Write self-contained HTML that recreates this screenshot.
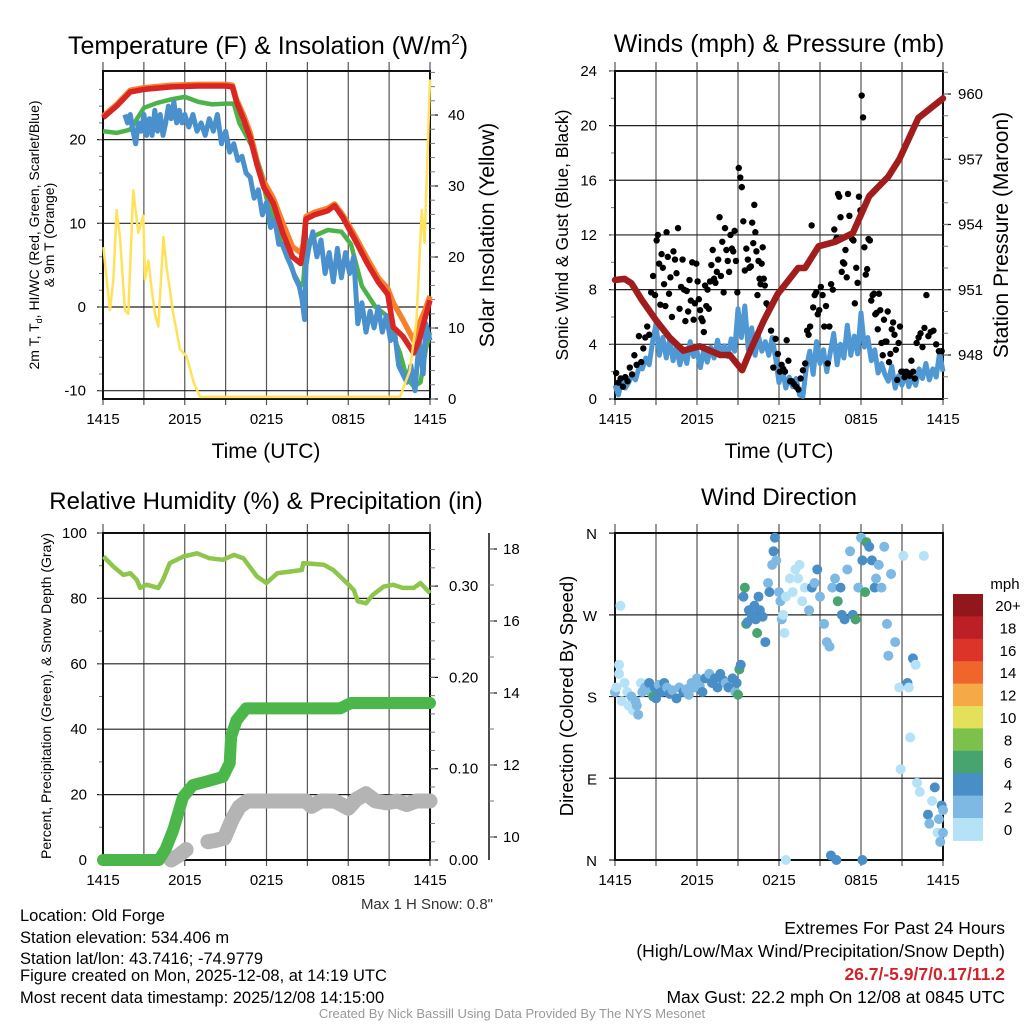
<!DOCTYPE html>
<html><head><meta charset="utf-8"><style>
html,body{margin:0;padding:0;background:#fff;}
svg{display:block;font-family:"Liberation Sans",sans-serif;}
</style></head><body>
<svg id="fig" width="1024" height="1024" viewBox="0 0 1024 1024" xmlns="http://www.w3.org/2000/svg">
<rect width="1024" height="1024" fill="#fff"/>
<text x="268" y="54" font-size="25" text-anchor="middle">Temperature (F) &amp; Insolation (W/m<tspan font-size="15" dy="-10">2</tspan><tspan dy="10">)</tspan></text>
<text x="779" y="52" font-size="25" text-anchor="middle">Winds (mph) &amp; Pressure (mb)</text>
<text x="266" y="509" font-size="24" text-anchor="middle">Relative Humidity (%) &amp; Precipitation (in)</text>
<text x="779" y="505" font-size="24" text-anchor="middle">Wind Direction</text>
<text x="266" y="458" font-size="21" text-anchor="middle">Time (UTC)</text>
<text x="779" y="458" font-size="21" text-anchor="middle">Time (UTC)</text>
<text transform="translate(39,235) rotate(-90)" font-size="14" text-anchor="middle">2m T, T<tspan font-size="9" dy="3">d</tspan><tspan dy="-3">, HI/WC (Red, Green, Scarlet/Blue)</tspan></text>
<text transform="translate(54,235) rotate(-90)" font-size="14" text-anchor="middle">&amp; 9m T (Orange)</text>
<text transform="translate(494,235) rotate(-90)" font-size="21" text-anchor="middle">Solar Insolation (Yellow)</text>
<text transform="translate(568,235) rotate(-90)" font-size="17.5" text-anchor="middle">Sonic Wind &amp; Gust (Blue, Black)</text>
<text transform="translate(1008,235) rotate(-90)" font-size="21" text-anchor="middle">Station Pressure (Maroon)</text>
<text transform="translate(51,696) rotate(-90)" font-size="14" text-anchor="middle">Percent, Precipitation (Green), &amp; Snow Depth (Gray)</text>
<text transform="translate(573,696) rotate(-90)" font-size="18.5" text-anchor="middle">Direction (Colored By Speed)</text>
<text x="493" y="909" font-size="15" text-anchor="end" fill="#333">Max 1 H Snow: 0.8"</text>
<g font-size="16.5">
<text x="20" y="921">Location: Old Forge</text>
<text x="20" y="943">Station elevation: 534.406 m</text>
<text x="20" y="964">Station lat/lon: 43.7416; -74.9779</text>
<text x="20" y="981">Figure created on Mon, 2025-12-08, at 14:19 UTC</text>
<text x="20" y="1003">Most recent data timestamp: 2025/12/08 14:15:00</text>
</g>
<g font-size="17.5" text-anchor="end">
<text x="1005" y="934">Extremes For Past 24 Hours</text>
<text x="1005" y="957">(High/Low/Max Wind/Precipitation/Snow Depth)</text>
<text x="1005" y="980" fill="#d2232a" font-weight="bold">26.7/-5.9/7/0.17/11.2</text>
<text x="1005" y="1003">Max Gust: 22.2 mph On 12/08 at 0845 UTC</text>
</g>
<text x="512" y="1018" font-size="13" text-anchor="middle" fill="#999">Created By Nick Bassill Using Data Provided By The NYS Mesonet</text>
</svg>
<script>
// ---- data ----
const timeTickLabels = ["1415","2015","0215","0815","1415"];
const tempTicks = [-10,0,10,20];
const solarTicks = [0,10,20,30,40];
const windTicks = [0,4,8,12,16,20,24];
const presTicks = [948,951,954,957,960];
const rhTicks = [0,20,40,60,80,100];
const precipTicks = [0,0.1,0.2,0.3];
const snowTicks = [10,12,14,16,18];
const dirTicks = ["N","E","S","W","N"];
const speedLabels = ["0","2","4","6","8","10","12","14","16","18","20+"];
const speedColors = ["#b5e2f7","#7db9e2","#4a8ec7","#48a46e","#7bc14b","#e5e05b","#f6a947","#ef652c","#dd3429","#bd1f27","#92171a"];

const redT = [0,1,2,3,5,7,9,9.5,9.8,10.3,10.8,11.3,11.8,12.5,13.2,13.9,14.5,14.7,14.9,15.5,16.5,17.0,17.6,18.5,19.4,20.2,20.9,21.3,22.0,22.8,23.2,23.6,24];
const redV = [22.6,24,25.7,26,26.3,26.4,26.4,26.3,24.5,22.5,20.2,17,14.3,12.4,8.8,6,5.2,7,10.5,11,11.5,12.1,10.7,8,5.2,3,1.5,-2.4,-3.5,-5.5,-4,-1.5,0.8];
const orangeV = [22.8,24.2,25.9,26.2,26.5,26.6,26.6,26.5,24.8,23,20.8,17.5,15,13,10,7.2,6.5,7.5,10.8,11.3,11.8,12.3,11,8.5,5.8,3.5,2.2,0.5,-1.5,-4,-2,-0.5,1.3];
const greenT = [0,1,2,2.5,3,4,5,6,7,8,9,9.6,10,10.5,11,11.5,12,12.5,13,13.5,14,14.5,14.7,14.9,15.5,16.5,17.5,18.2,18.6,19,20,20.8,21.2,21.8,22.3,22.8,23.3,23.7,24];
const greenV = [21,20.8,21.2,22.5,23.8,24.4,24.8,25.1,24.5,24.2,24.3,24.3,22,20.5,19,16.5,13,10.5,8,6,4,2.5,3,7.5,8.5,9.2,9,7.5,5,2.5,0,-1,-3,-5.5,-8.5,-9.5,-9,-5,-3];
const blueT = [1.6,1.8,2.0,2.2,2.4,2.6,2.8,3.0,3.2,3.4,3.6,3.8,4.0,4.2,4.4,4.6,4.8,5.0,5.2,5.4,5.6,5.8,6.0,6.3,6.6,6.9,7.2,7.5,7.8,8.1,8.4,8.7,9.0,9.3,9.6,9.9,10.2,10.5,10.8,11.1,11.4,11.7,12.0,12.3,12.6,12.9,13.2,13.5,13.8,14.1,14.4,14.6,14.8,14.9,15.1,15.4,15.7,16.0,16.3,16.6,16.9,17.2,17.5,17.8,18.1,18.4,18.7,19.0,19.3,19.6,19.9,20.2,20.5,20.8,21.1,21.4,21.7,22.0,22.3,22.6,22.9,23.2,23.5,23.7,24.0];
const blueV = [23,22,23,21,19.5,22,21,23,20.5,22.5,20.5,23.5,21,23,20.5,22,24,22.5,24.5,22,23.5,22,23,21.5,23,21,22,20.5,22.5,21,23,19.5,21,18.5,19.5,17.5,18,16,15.5,13,14,11,12.5,9.5,10.5,7.5,7.5,6,5,3.5,2.5,1,-1.5,5,7,9,6,8,4,6.5,3,7,3.5,6.5,4,6,-2,0.5,-3,-0.5,-2.5,0,-3,-1,-4,-3,-7,-8,-9,-7,-10,-4,-8,-2,-4];
const solarT = [0.03,0.27,0.51,0.76,1.0,1.25,1.61,1.86,2.22,2.59,2.96,3.08,3.33,3.57,3.82,4.06,4.43,4.67,5.16,5.65,6.14,6.63,7.12,21.8,22.5,23.0,23.4,23.6,24];
const solarV = [21.4,16.8,12.5,16.8,26.6,22.8,12.5,12,29.4,23.4,25.8,16.8,19.5,15.5,12,10.2,22.8,18.6,12,7,6,2.5,0.3,0.3,3.9,10.9,26.6,22,45];

const presT = [0,0.7,1.2,2,3,4,5,6.2,7.7,8.4,9.3,9.9,10.9,11.9,12.9,13.4,13.9,14.9,16.1,17.4,18.6,20,20.8,22.2,23.2,24];
const presV = [951.45,951.5,951.3,950.5,949.6,948.8,948.2,948.4,948.0,948.0,947.3,948.2,949.6,950.8,951.6,952.0,952.0,953.0,953.2,953.6,955.3,956.2,957.0,958.9,959.4,959.8];
const windT = [0,0.25,0.5,0.75,1,1.25,1.5,1.75,2,2.25,2.5,2.75,3,3.25,3.5,3.75,4,4.25,4.5,4.75,5,5.25,5.5,5.75,6,6.25,6.5,6.75,7,7.25,7.5,7.75,8,8.25,8.5,8.75,9,9.25,9.5,9.75,10,10.25,10.5,10.75,11,11.25,11.5,11.75,12,12.25,12.5,12.75,13,13.25,13.5,13.75,14,14.25,14.5,14.75,15,15.25,15.5,15.75,16,16.25,16.5,16.75,17,17.25,17.5,17.75,18,18.25,18.5,18.75,19,19.25,19.5,19.75,20,20.25,20.5,20.75,21,21.25,21.5,21.75,22,22.25,22.5,22.75,23,23.25,23.5,23.75,24];
const windV = [1,0.3,1.4,0.8,1.2,1.8,1.4,2.3,2.2,3.0,2.5,4.2,5.5,3.2,4.5,3.0,4.4,2.8,3.8,2.5,3.6,2.6,4.2,3.1,3.5,2.3,3.6,2.7,3.8,3.0,4.3,3.2,3.9,3.1,4.4,3.5,6.6,4.5,6.8,3.6,5.2,3.2,4.6,3.5,4.2,3.2,4.5,3.0,1.2,2.2,0.8,1.6,0.9,1.5,0.3,0.2,2.3,3.5,1.8,4.2,2.6,3.6,2.0,3.4,4.8,2.5,4.0,3.0,5.4,3.2,4.6,3.3,6.3,3.8,4.5,2.8,3.6,1.9,2.6,1.8,1.3,2.4,0.8,1.7,1.0,2.0,0.9,1.6,1.0,2.2,1.5,2.6,1.4,2.2,1.6,3.4,2.0];
const gustByHour = [
[1.9,1.2,1.5,0.9,1.6,1.3],[2.3,1.8,3.2,2.5,4.6,2.7],[3.7,4.5,5.3,4.7,7.8,9.0,7.6],
[11.6,12.0,9.9,6.9,10.6,9.6,8.4,6.8,12.2,10.4,7.7],[8.9,6.0,10.8,10.2,9.2,12.5,6.6,8.2,10.2],
[8.0,5.7,7.9,6.4,8.7,7.2,10.0,5.8,7.0,9.9],[8.6,7.3,6.5,5.9,5.7,4.9,8.3,6.8,8.0,6.6,8.6],
[9.8,10.9,8.8,8.5,9.3,10.2,13.3,9.0,11.5,7.8],[12.5,10.9,10.1,9.3,12.0,11.0,10.8,12.3,10.1,7.8],
[16.9,16.2,15.5,13.0,9.4,11.0,10.2,9.6,9.7],[12.9,11.4,14.2,12.2,10.8,7.6,10.1,8.8,8.4,9.9,11.1,8.8,8.3],
[7.0,6.8,5.0,2.3,4.4,3.3],[2.0,2.5,2.2,2.0,4.3,2.8,1.3,1.3],[1.1,0.9,0.7,1.5,2.1,2.6],
[5.0,4.7,5.3,12.7,6.7,7.6,7.8,6.2,6.5],[8.2,7.6,5.3,6.8,2.6,5.3,8.4,8.0],
[12.4,11.6,11.8,15.0,14.8,13.3,9.3,10.0,9.9,10.9,8.9],[15.0,13.4,12.0,11.7,11.6,7.0,9.6,8.5,14.8,13.8],
[22.2,20.6,11.1,9.1,9.5,11.7,11.6,7.2,7.6,7.7],[6.2,6.3,5.1,7.7,6.5,4.1,3.2,5.8,4.2,4.2,6.4],
[2.7,3.3,5.1,5.6,4.7,3.6,1.4,4.1,5.3,2.0],[2.0,1.6,2.0,1.9,1.7,2.8,2.0,1.5],
[4.1,4.5,4.8,3.8,5.2,7.6,4.6],[4.9,5.0,4.0,3.5,3.5]];

const rhT = [0.04,0.77,1.5,2.0,2.47,2.72,3.2,4.06,4.4,4.9,5.9,6.9,7.8,8.8,9.6,10.3,11.3,12.0,12.8,13.7,14.6,14.7,16.2,16.9,17.9,18.4,18.7,19.3,19.8,20.6,21.3,22.0,22.8,23.3,24];
const rhV = [92.8,89.7,87.2,87.7,85.7,83.2,84.2,83.2,85.7,90.8,92.8,93.8,92.3,91.8,93.3,92.3,86.7,84.7,87.7,88.2,88.7,90.8,90.3,88.7,84.7,82.6,79.1,78.5,81.1,83.6,84.2,83.2,83.2,84.7,81.6];
const precipT = [0,2,4.1,4.6,5.16,5.87,6.6,7.6,8.8,9.3,9.4,9.8,10.5,17.4,18.2,24];
const precipV = [0,0,0,0.012,0.033,0.069,0.082,0.086,0.091,0.106,0.135,0.153,0.166,0.166,0.172,0.172];
const snowSeg1T = [5.0,5.6,6.1];
const snowSeg1V = [9.36,9.5,9.65];
const snowSeg2T = [7.7,8.2,8.9,9.5,10.0,10.6,12,13,14.9,15.3,16,17,18.0,18.6,19.3,20.0,20.8,21.6,22.3,23,24];
const snowSeg2V = [9.87,9.9,9.97,10.5,10.84,11.0,11.0,11.0,11.0,10.85,11.0,11.0,10.8,11.05,11.2,11.0,10.95,11.0,10.9,11.0,11.0];

const dirT = [0.0,0.1,0.3,0.3,0.4,0.5,0.7,0.9,1.0,1.2,1.3,1.5,1.6,1.7,1.9,2.0,2.2,2.5,2.6,2.8,2.9,3.0,3.2,3.4,3.6,3.8,4.0,4.2,4.5,4.7,5.0,5.2,5.4,5.6,5.8,6.0,6.2,6.4,6.6,6.9,7.1,7.3,7.5,7.7,7.9,8.1,8.3,8.6,8.8,8.9,9.0,9.1,9.2,9.4,9.5,9.6,9.8,10.0,10.2,10.3,10.4,10.6,10.8,11.0,11.2,11.3,11.5,11.6,11.7,11.8,12.0,12.1,12.2,12.3,12.4,12.5,12.8,13.0,13.2,13.4,13.5,13.7,13.9,14.2,14.4,14.6,14.8,15.0,15.3,15.5,15.7,15.9,16.1,16.3,16.5,16.6,16.8,17.0,17.2,17.4,17.6,17.8,18.0,18.1,18.3,18.4,18.6,18.8,19.0,19.1,19.3,19.5,19.7,19.9,20.0,20.2,20.5,20.8,20.9,21.1,21.4,21.5,21.6,21.8,22.0,22.1,22.3,22.6,22.9,23.0,23.2,23.4,23.6,23.7,23.8,23.9,24.0,24.0,15.8,16.2,18.1,12.5,9.7,10.5];
const dirV = [185,190,205,215,280,175,195,185,170,180,165,175,170,160,195,185,190,195,185,180,190,178,193,185,195,190,183,187,178,190,185,188,182,195,190,200,192,185,200,205,195,200,190,205,198,195,190,200,185,195,182,210,215,290,300,260,275,270,280,265,250,275,268,240,305,295,325,340,355,330,295,285,265,270,250,290,310,295,320,310,325,285,300,275,300,305,320,290,260,240,235,300,310,285,300,270,265,320,340,270,265,300,355,330,295,350,345,330,300,310,325,300,345,260,225,315,240,190,100,335,195,190,135,222,215,85,75,335,50,40,65,80,30,45,20,60,30,55,5,0,0,0,262,290];
const dirSpd = [2,0,0,0,0,0,0,0,0,2,0,2,2,2,0,2,2,4,2,6,4,4,2,4,4,2,4,2,4,2,4,2,2,2,2,2,2,4,4,2,4,4,4,4,4,2,4,4,2,4,6,6,4,4,6,6,4,4,4,4,6,4,4,4,2,4,2,4,4,2,2,2,2,0,0,0,0,0,0,0,0,0,0,2,4,2,4,2,2,2,2,2,2,6,4,4,4,2,2,4,6,2,2,4,6,6,4,4,4,2,2,2,2,2,2,2,2,0,0,0,4,0,0,4,0,0,0,0,4,2,0,4,0,2,2,4,2,2,4,4,4,0,4,4];

// ---- helpers ----
const NS = "http://www.w3.org/2000/svg";
const svg = document.getElementById("fig");
function mk(tag, attrs, parent){
  const e = document.createElementNS(NS, tag);
  for (const k in attrs) e.setAttribute(k, attrs[k]);
  (parent || svg).appendChild(e);
  return e;
}
function pathD(ts, vs, xf, yf){
  return ts.map((t,i)=>(i?"L":"M")+xf(t).toFixed(1)+" "+yf(vs[i]).toFixed(1)).join(" ");
}
function panelBase(name, x0, x1, yTop, yBot, yf, ticks, minorStep, minorRange){
  const g = mk("g", {});
  
  
  for (let i = 0; i <= 8; i++){
    const x = x0 + i*(x1-x0)/8;
    const l = mk("line", {x1:x, y1:yTop-9, x2:x, y2:yBot+6, stroke:"#555", "stroke-width":1.2}, g);
    
    
  }
  for (let i = 0; i <= 4; i++){
    const x = x0 + i*(x1-x0)/4;
    const t = mk("text", {x:x, y:yBot+25, "font-size":15, "text-anchor":"middle"}, g);
    t.textContent = timeTickLabels[i];
    
    
  }
  ticks.forEach(v=>{
    const y = yf(v);
    const l = mk("line", {x1:x0-6, y1:y, x2:x1, y2:y, stroke:"#222", "stroke-width":1.2}, g);
    
    
  });
  if (minorStep){
    for (let v = minorRange[0]; v <= minorRange[1]+1e-9; v += minorStep){
      const y = yf(v);
      const l = mk("line", {x1:x0-4, y1:y, x2:x0, y2:y, stroke:"#777", "stroke-width":1}, g);
      
      
    }
  }
  const f = mk("rect", {x:x0, y:yTop, width:x1-x0, height:yBot-yTop, fill:"none", stroke:"#111", "stroke-width":2}, g);
  
  
  return g;
}
function yLabels(name, ticks, yf, x, anchor, fmt, size){
  ticks.forEach((v,i)=>{
    const t = mk("text", {x:x, y:yf(v)+5, "font-size":size||15, "text-anchor":anchor});
    t.textContent = fmt ? fmt(v,i) : v;
    
    
  });
}
function rightAxis(name, x, yTop, yBot, ticks, yf, minor, minorRange){
  const l = mk("line", {x1:x, y1:yTop, x2:x, y2:yBot, stroke:"#111", "stroke-width":1.5});
  
  
  ticks.forEach(v=>{
    const t = mk("line", {x1:x, y1:yf(v), x2:x+8, y2:yf(v), stroke:"#111", "stroke-width":1.2});
    
    
  });
  if (minor){
    for (let v = minorRange[0]; v <= minorRange[1]+1e-9; v += minor){
      const t = mk("line", {x1:x, y1:yf(v), x2:x+5, y2:yf(v), stroke:"#777", "stroke-width":1});
      
      
    }
  }
}

// ---- Panel A: temperature ----
const ax0 = 103, ax1 = 430;
const xA = h => ax0 + h*(ax1-ax0)/24;
const yT = v => 307 - v*8.37;
const yS = v => 399 - v*7.1;
panelBase("temp", ax0, ax1, 71, 399, yT, tempTicks, 2, [-10,26]);
yLabels("temp-y-tick-label", tempTicks, yT, 86, "end");
rightAxis("solar-axis", ax1, 71, 399, solarTicks, yS, 2, [0,46]);
yLabels("solar-y-tick-label", solarTicks, yS, 448, "start");
let p;
p = mk("path", {d:pathD(redT, orangeV, xA, yT), fill:"none", stroke:"#f5822b", "stroke-width":5.5, "stroke-linejoin":"round"});


p = mk("path", {d:pathD(greenT, greenV, xA, yT), fill:"none", stroke:"#4bb34a", "stroke-width":4.5, "stroke-linejoin":"round"});


p = mk("path", {d:pathD(blueT, blueV, xA, yT), fill:"none", stroke:"#4a90cc", "stroke-width":5, "stroke-linejoin":"round"});


p = mk("path", {d:pathD(redT, redV, xA, yT), fill:"none", stroke:"#d92524", "stroke-width":5.5, "stroke-linejoin":"round"});


p = mk("path", {d:pathD(solarT, solarV, xA, yS), fill:"none", stroke:"#ffe25a", "stroke-width":2.5, "stroke-linejoin":"round"});



// ---- Panel B: winds ----
const bx0 = 615, bx1 = 943;
const xB = h => bx0 + h*(bx1-bx0)/24;
const yW = v => 399 - v*13.67;
const yP = v => 94 + (960-v)*21.75;
panelBase("wind", bx0, bx1, 71, 399, yW, windTicks, 2, [0,24]);
yLabels("wind-y-tick-label", windTicks, yW, 597, "end");
rightAxis("pressure-axis", bx1, 71, 399, presTicks, yP, 1, [946,961]);
yLabels("pressure-y-tick-label", presTicks, yP, 958, "start");
p = mk("path", {d:pathD(windT, windV, xB, yW), fill:"none", stroke:"#4f98d3", "stroke-width":5, "stroke-linejoin":"round"});


gustByHour.forEach((arr, hr)=>{
  arr.forEach((v, i)=>{
    const t = hr + (i+0.5)/arr.length;
    const c = mk("circle", {cx:xB(t), cy:yW(v), r:3.2, fill:"#000"});
    
    
  });
});
p = mk("path", {d:pathD(presT, presV, xB, yP), fill:"none", stroke:"#a11d1d", "stroke-width":6.5, "stroke-linejoin":"round", "stroke-linecap":"round"});



// ---- Panel C: humidity / precip ----
const cx0 = 103, cx1 = 430;
const xC = h => cx0 + h*(cx1-cx0)/24;
const yR = v => 860 - v*3.27;
const yPr = v => 860 - v*913;
const ySn = v => 837 - (v-10)*36;
panelBase("rh", cx0, cx1, 533, 860, yR, rhTicks, 10, [0,100]);
yLabels("rh-y-tick-label", rhTicks, yR, 87, "end");
rightAxis("precip-axis", cx1, 533, 860, precipTicks, yPr, 0.02, [0,0.34]);
yLabels("precip-y-tick-label", precipTicks, yPr, 449, "start", v=>v.toFixed(2));
rightAxis("snow-axis", 489, 533, 860, snowTicks, ySn, 1, [10,18]);
yLabels("snow-y-tick-label", snowTicks, ySn, 503, "start");
p = mk("path", {d:pathD(snowSeg1T, snowSeg1V, xC, ySn), fill:"none", stroke:"#b4b4b4", "stroke-width":15, "stroke-linejoin":"round", "stroke-linecap":"round"});


p = mk("path", {d:pathD(snowSeg2T, snowSeg2V, xC, ySn), fill:"none", stroke:"#b4b4b4", "stroke-width":15, "stroke-linejoin":"round", "stroke-linecap":"round"});


p = mk("path", {d:pathD(precipT, precipV, xC, yPr), fill:"none", stroke:"#4bb64a", "stroke-width":12, "stroke-linejoin":"round", "stroke-linecap":"round"});


p = mk("path", {d:pathD(rhT, rhV, xC, yR), fill:"none", stroke:"#8dc64b", "stroke-width":4.5, "stroke-linejoin":"round"});



// ---- Panel D: wind direction ----
const dx0 = 615, dx1 = 943;
const xD = h => dx0 + h*(dx1-dx0)/24;
const yD = v => 860 - v*0.908;
const dirDeg = [0,90,180,270,360];
panelBase("dir", dx0, dx1, 533, 860, yD, dirDeg, 0, null);
dirDeg.forEach((v,i)=>{
  const t = mk("text", {x:597, y:yD(v)+6, "font-size":15, "text-anchor":"end"});
  t.textContent = dirTicks[i];
  
  
});
dirT.forEach((t,i)=>{
  const c = mk("circle", {cx:xD(t), cy:yD(dirV[i]), r:5, fill:speedColors[dirSpd[i]/2]});
  
  
});
// colorbar
const cbTop = 594, cbH = 22.4;
const mph = mk("text", {x:1005, y:589, "font-size":15, "text-anchor":"middle"});
mph.textContent = "mph";


for (let i = 0; i < speedColors.length; i++){
  const k = speedColors.length-1-i;
  const r = mk("rect", {x:953, y:cbTop+i*cbH, width:30, height:cbH+0.5, fill:speedColors[k]});
  
  
  const t = mk("text", {x:1008, y:cbTop+i*cbH+17, "font-size":15, "text-anchor":"middle"});
  t.textContent = speedLabels[k];
  
  
}
</script>
</body></html>
